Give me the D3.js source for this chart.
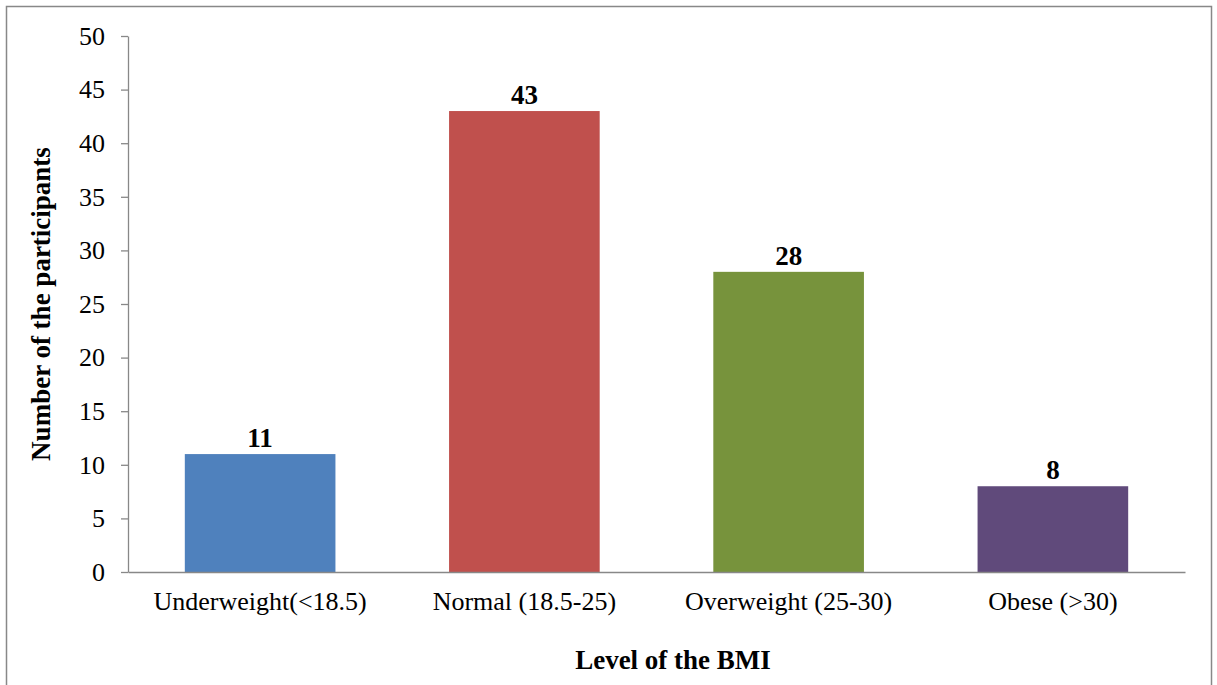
<!DOCTYPE html>
<html><head><meta charset="utf-8">
<script src="https://cdn.jsdelivr.net/npm/d3@7"></script>
<style>body{margin:0;background:#fff}svg{display:block}</style>
</head><body>
<script>
const categories = ["Underweight(<18.5)", "Normal (18.5-25)", "Overweight (25-30)", "Obese (>30)"];
const values = [11, 43, 28, 8];
const colors = ["#4F81BD", "#C0504D", "#77933C", "#604A7B"];
const yTicks = [0, 5, 10, 15, 20, 25, 30, 35, 40, 45, 50];
const xTitle = "Level of the BMI";
const yTitle = "Number of the participants";

const W = 1217, H = 685;
const svg = d3.select("body").append("svg").attr("width", W).attr("height", H);
svg.append("rect").attr("x", 6.5).attr("y", 6.5).attr("width", 1205).attr("height", 690)
  .attr("fill", "none").attr("stroke", "#888").attr("stroke-width", 1.5);

const pL = 128, pR = 1185, pT = 36, pB = 572;
const x = d3.scaleBand().domain(categories).range([pL, pR]).paddingInner(0.43).paddingOuter(0.215);
const y = d3.scaleLinear().domain([0, 50]).range([pB, pT]);
const font = "'Liberation Serif', 'Times New Roman', serif";

const yAxis = svg.append("g").attr("transform", `translate(${pL},0)`)
  .call(d3.axisLeft(y).tickValues(yTicks).tickSize(7).tickPadding(16).tickSizeOuter(0));
yAxis.select(".domain").attr("stroke", "#888").attr("stroke-width", 1.3);
yAxis.selectAll(".tick line").attr("stroke", "#888").attr("stroke-width", 1.3);
yAxis.selectAll("text").attr("font-family", font).attr("font-size", 26).attr("fill", "#000");

svg.selectAll("rect.bar").data(values).join("rect").attr("class", "bar")
  .attr("x", (d, i) => x(categories[i])).attr("width", x.bandwidth())
  .attr("y", d => y(d)).attr("height", d => pB - y(d))
  .attr("fill", (d, i) => colors[i]);

const xAxis = svg.append("g").attr("transform", `translate(0,${pB})`)
  .call(d3.axisBottom(x).tickSize(0).tickPadding(20));
xAxis.select(".domain").attr("stroke", "#888").attr("stroke-width", 1.3);
xAxis.selectAll("text").attr("font-family", font).attr("font-size", 26).attr("fill", "#000");

svg.selectAll("text.val").data(values).join("text").attr("class", "val")
  .attr("x", (d, i) => x(categories[i]) + x.bandwidth() / 2).attr("y", d => y(d) - 7)
  .attr("text-anchor", "middle").attr("font-family", font).attr("font-weight", "bold")
  .attr("font-size", 27).text(d => d);

svg.append("text").attr("x", 673).attr("y", 669).attr("text-anchor", "middle")
  .attr("font-family", font).attr("font-weight", "bold").attr("font-size", 27).text(xTitle);
svg.append("text").attr("transform", `translate(50,${(pT + pB) / 2}) rotate(-90)`)
  .attr("text-anchor", "middle").attr("font-family", font).attr("font-weight", "bold")
  .attr("font-size", 27).text(yTitle);
</script>
</body></html>
